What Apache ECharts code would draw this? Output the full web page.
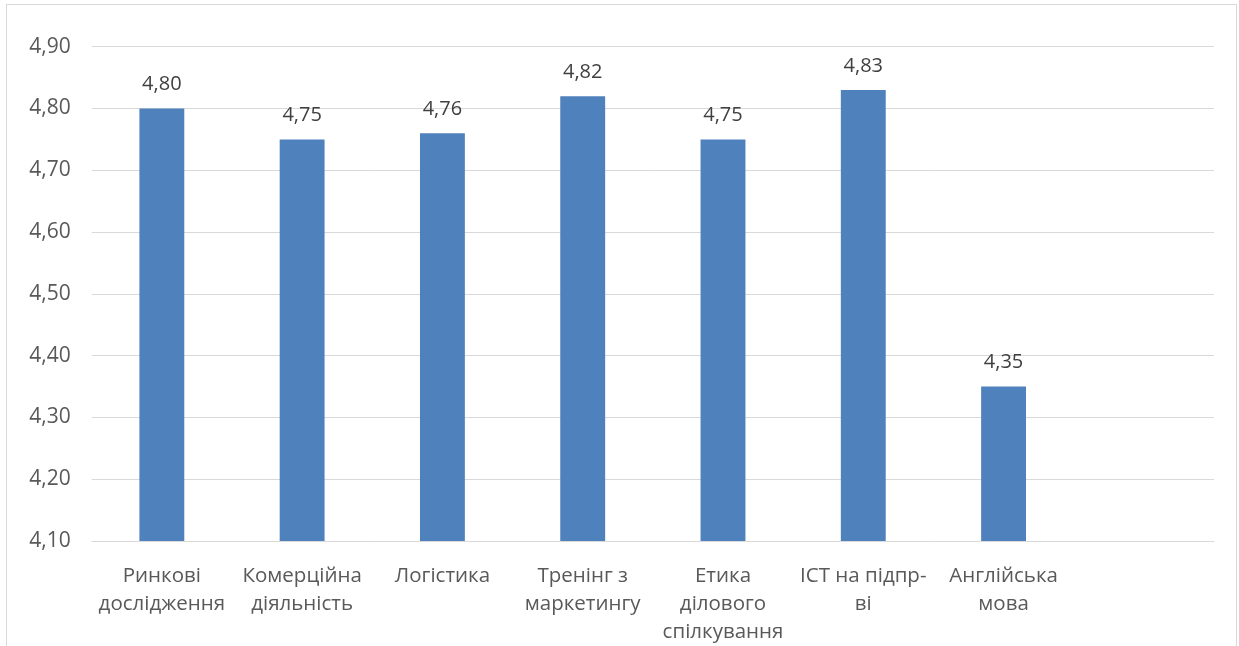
<!DOCTYPE html>
<html>
<head>
<meta charset="utf-8">
<script src="https://cdn.jsdelivr.net/npm/echarts@6/dist/echarts.min.js"></script>
<style>
  html, body { margin: 0; padding: 0; background: #fff; }
  #frame { position: absolute; left: 6px; top: 4px; width: 1231px; height: 660px; border: 1px solid #d9d9d9; box-sizing: border-box; }
  #chart { position: absolute; left: 0; top: 0; width: 1239px; height: 646px; }
</style>
</head>
<body>
<div id="frame"></div>
<div id="chart"></div>
<script>
const categories = [
  'Ринкові\nдослідження',
  'Комерційна\nдіяльність',
  'Логістика',
  'Тренінг з\nмаркетингу',
  'Етика\nділового\nспілкування',
  'ІСТ на підпр-\nві',
  'Англійська\nмова',
  ''
];
const values = [4.80, 4.75, 4.76, 4.82, 4.75, 4.83, 4.35, null];
const yMin = 4.1, yMax = 4.9, yStep = 0.1;

const fmt = v => v.toFixed(2).replace('.', ',');
const font = '"Open Sans", "Noto Sans", sans-serif';

const chart = echarts.init(document.getElementById('chart'));
chart.setOption({
  animation: false,
  textStyle: { fontFamily: font },
  grid: { left: 91.7, right: 25, top: 46.7, bottom: 103.5, containLabel: false },
  xAxis: {
    type: 'category',
    data: categories,
    axisLine: { show: true, lineStyle: { color: '#d9d9d9', width: 1 } },
    axisTick: { show: false },
    axisLabel: { color: '#595959', fontSize: 20.5, lineHeight: 28, margin: 21, interval: 0, fontFamily: font }
  },
  yAxis: {
    type: 'value',
    min: yMin, max: yMax, interval: yStep,
    axisLine: { show: false },
    axisTick: { show: false },
    splitLine: { lineStyle: { color: '#d9d9d9', width: 1 } },
    axisLabel: { color: '#595959', fontSize: 21, margin: 21, formatter: v => fmt(v), fontFamily: font }
  },
  series: [{
    type: 'bar',
    data: values,
    barWidth: '32%',
    itemStyle: { color: '#4f81bd' },
    label: {
      show: true, position: 'top', distance: 14,
      color: '#404040', fontSize: 20, fontFamily: font,
      formatter: p => p.value == null ? '' : fmt(p.value)
    }
  }]
});
</script>
</body>
</html>
